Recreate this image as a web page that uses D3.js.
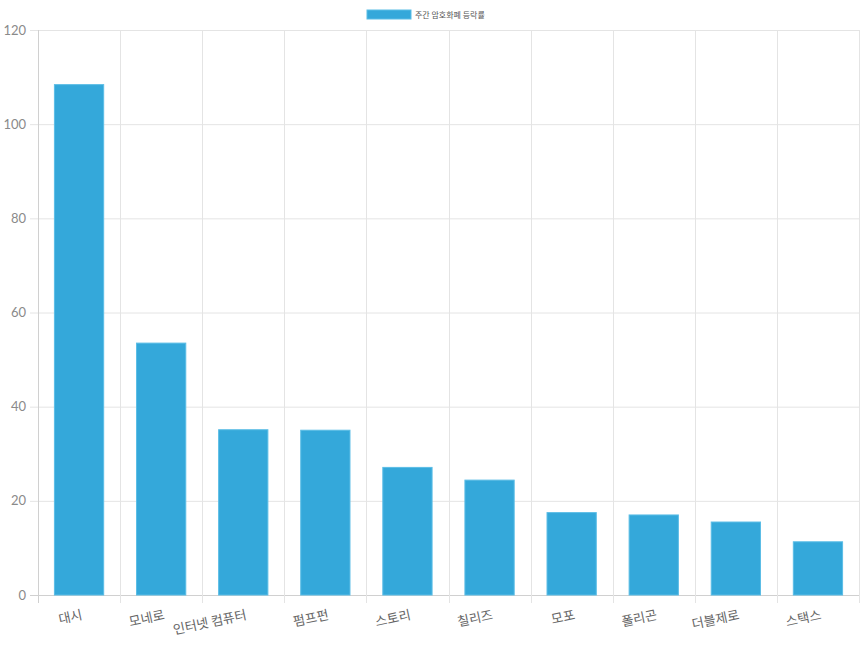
<!DOCTYPE html>
<html>
<head>
<meta charset="utf-8">
<script src="https://cdn.jsdelivr.net/npm/d3@7"></script>
<style>
  body { margin: 0; background: #fff; }
  text { font-family: "Noto Sans CJK KR", "Noto Sans", sans-serif; }
</style>
</head>
<body>
<script>
let coins = ['대시', '모네로', '인터넷 컴퓨터', '펌프펀', '스토리', '칠리즈', '모포', '폴리곤', '더블제로', '스택스'];
let changes = [108.4, 53.5, 35.1, 35.0, 27.1, 24.4, 17.5, 17.0, 15.5, 11.3];
let yTicks = [0, 20, 40, 60, 80, 100, 120];
let seriesName = '주간 암호화폐 등락률';

let margin = { top: 30, right: 1, bottom: 50, left: 38 };
let width = 860 - margin.left - margin.right;
let height = 645 - margin.top - margin.bottom;

let svg = d3.select('body').append('svg')
    .attr('width', 860)
    .attr('height', 645);

let g = svg.append('g')
    .attr('transform', 'translate(' + margin.left + ',' + margin.top + ')');

let x = d3.scaleBand().domain(coins).range([0, width]).paddingInner(0).paddingOuter(0);
let y = d3.scaleLinear().domain([0, 120]).range([height, 0]);

// horizontal grid
g.append('g')
  .selectAll('line')
  .data(yTicks)
  .join('line')
    .attr('x1', -8)
    .attr('x2', width)
    .attr('y1', d => y(d) + 0.5)
    .attr('y2', d => y(d) + 0.5)
    .attr('stroke', d => d === 0 ? '#d0d0d0' : '#e4e4e4');

// vertical grid (category boundaries)
let bounds = coins.map(c => x(c)).concat([width]);
g.append('g')
  .selectAll('line')
  .data(bounds)
  .join('line')
    .attr('x1', d => Math.round(d) + 0.5)
    .attr('x2', d => Math.round(d) + 0.5)
    .attr('y1', 0)
    .attr('y2', height + 8)
    .attr('stroke', (d, i) => i === 0 ? '#d0d0d0' : '#e4e4e4');

// y tick labels
g.append('g')
  .selectAll('text')
  .data(yTicks)
  .join('text')
    .attr('x', -12)
    .attr('y', d => y(d))
    .attr('dy', '0.35em')
    .attr('text-anchor', 'end')
    .attr('fill', '#8a8a8a')
    .style('font-family', 'Lato, "Noto Sans", sans-serif')
    .style('font-size', '13px')
    .text(d => d);

// bars
let bw = x.bandwidth() * 0.6;
g.append('g')
  .selectAll('rect')
  .data(changes)
  .join('rect')
    .attr('x', (d, i) => x(coins[i]) + (x.bandwidth() - bw) / 2)
    .attr('y', d => y(d))
    .attr('width', bw)
    .attr('height', d => height - y(d))
    .attr('fill', '#34a8da')
    .attr('stroke', '#5bbde6')
    .attr('stroke-width', 1);

// x labels, rotated
g.append('g')
  .selectAll('text')
  .data(coins)
  .join('text')
    .attr('transform', d => 'translate(' + (x(d) + x.bandwidth() / 2 + 4) + ',' + (height + 24) + ') rotate(-12)')
    .attr('text-anchor', 'end')
    .attr('fill', '#666')
    .style('font-size', '13px')
    .text(d => d);

// legend
let legend = svg.append('g').attr('transform', 'translate(367,10)');
legend.append('rect')
  .attr('width', 44)
  .attr('height', 9)
  .attr('fill', '#34a8da')
  .attr('stroke', '#5bbde6');
legend.append('text')
  .attr('x', 48)
  .attr('y', 5)
  .attr('dy', '0.35em')
  .attr('fill', '#555')
  .style('font-size', '8px')
  .text(seriesName);
</script>
</body>
</html>
